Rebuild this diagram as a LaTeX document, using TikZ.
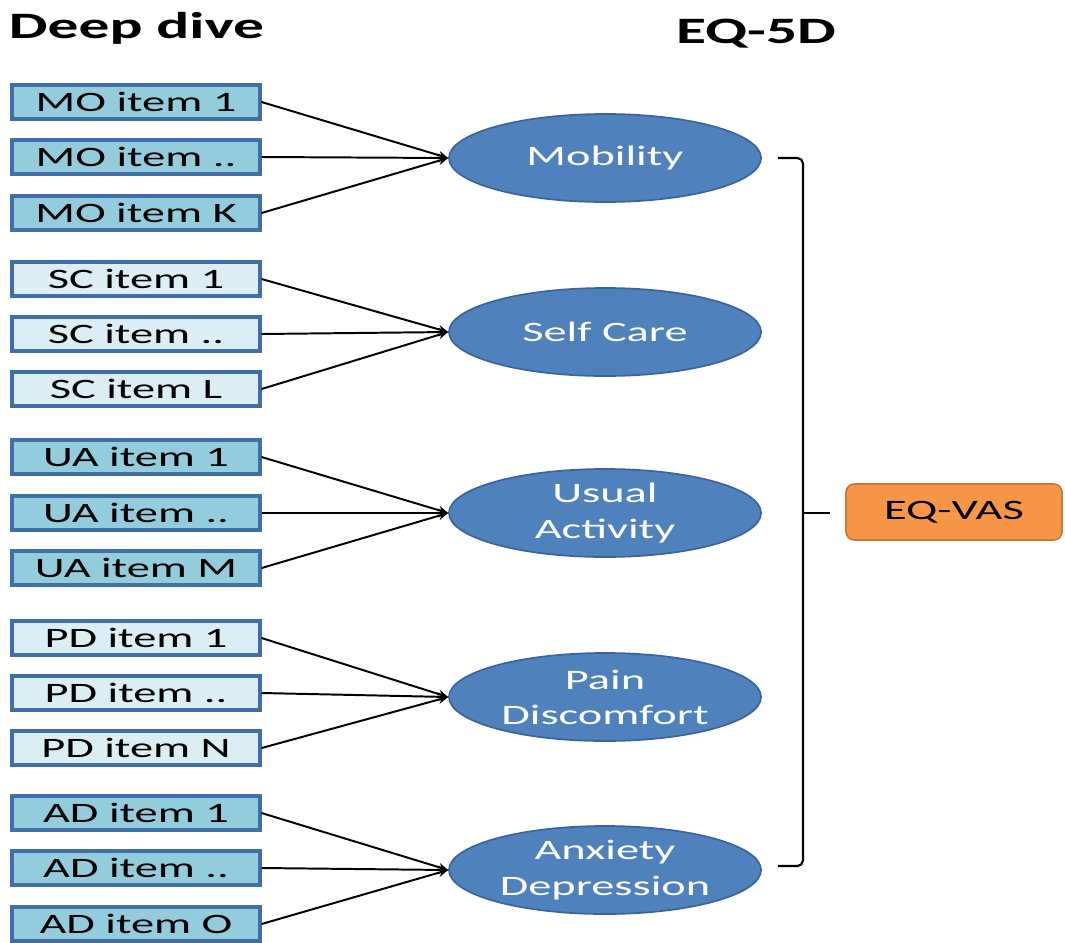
\documentclass[tikz,border=0pt]{standalone}
\usepackage{fontspec}
\setmainfont{Carlito}[FakeStretch=1.65]
\usetikzlibrary{shapes.geometric,arrows.meta}
\definecolor{itemdark}{HTML}{93CDDD}
\definecolor{itemlight}{HTML}{DBEEF4}
\definecolor{itemline}{HTML}{3F6FA6}
\definecolor{dimfill}{HTML}{4F81BD}
\definecolor{dimline}{HTML}{3A639A}
\definecolor{vasfill}{HTML}{F79646}
\definecolor{vasline}{HTML}{C87A3C}
\begin{document}
\begin{tikzpicture}[x=0.025cm, y=-0.025cm,
        item/.style={draw=itemline, line width=2.2pt, minimum width=6.2cm,
          minimum height=0.85cm, inner sep=0pt, font=\fontsize{20}{22}\selectfont},
        dark/.style={item, fill=itemdark},
        light/.style={item, fill=itemlight},
        dim/.style={ellipse, draw=dimline, line width=1.2pt, fill=dimfill,
          minimum width=7.8cm, minimum height=2.2cm, inner sep=0pt,
          text=white, align=center, font=\fontsize{20}{25}\selectfont},
        vas/.style={draw=vasline, line width=1.2pt, fill=vasfill, rounded corners=6pt,
          minimum width=5.4cm, minimum height=1.4cm, font=\fontsize{20}{22}\selectfont},
        link/.style={-{Stealth[length=7pt,width=6pt]}, line width=1.4pt},
        brace/.style={line width=1.5pt, rounded corners=4pt},
        title/.style={font=\bfseries\fontsize{26.5}{28}\selectfont},
      ]
        \useasboundingbox (0,0) rectangle (1065,942);
        \def\bx{136}  % item column
        \def\ex{605}  % dimension column

        % Titles
        \node[title, anchor=west] (deep) at (4,28) {Deep dive};
        \node[title] (eq5d) at (756,34) {EQ-5D};

        % Mobility
        \node[dark] (mo1) at (\bx,102) {MO item 1};
        \node[dark] (mo2) at (\bx,157) {MO item ..};
        \node[dark] (mo3) at (\bx,213) {MO item K};
        \node[dim] (mob) at (\ex,158) {Mobility};
        \draw[link] (mo1.east) -- (mob.west);
        \draw[link] (mo2.east) -- (mob.west);
        \draw[link] (mo3.east) -- (mob.west);

        % Self care
        \node[light] (sc1) at (\bx,279) {SC item 1};
        \node[light] (sc2) at (\bx,334) {SC item ..};
        \node[light] (sc3) at (\bx,389) {SC item L};
        \node[dim] (sc) at (\ex,332) {Self Care};
        \draw[link] (sc1.east) -- (sc.west);
        \draw[link] (sc2.east) -- (sc.west);
        \draw[link] (sc3.east) -- (sc.west);

        % Usual activity
        \node[dark] (ua1) at (\bx,457) {UA item 1};
        \node[dark] (ua2) at (\bx,513) {UA item ..};
        \node[dark] (ua3) at (\bx,568) {UA item M};
        \node[dim] (ua) at (\ex,513) {Usual\\Activity};
        \draw[link] (ua1.east) -- (ua.west);
        \draw[link] (ua2.east) -- (ua.west);
        \draw[link] (ua3.east) -- (ua.west);

        % Pain discomfort
        \node[light] (pd1) at (\bx,638) {PD item 1};
        \node[light] (pd2) at (\bx,693) {PD item ..};
        \node[light] (pd3) at (\bx,748) {PD item N};
        \node[dim] (pd) at (\ex,697) {Pain\\Discomfort};
        \draw[link] (pd1.east) -- (pd.west);
        \draw[link] (pd2.east) -- (pd.west);
        \draw[link] (pd3.east) -- (pd.west);

        % Anxiety depression
        \node[dark] (ad1) at (\bx,813) {AD item 1};
        \node[dark] (ad2) at (\bx,868) {AD item ..};
        \node[dark] (ad3) at (\bx,924) {AD item O};
        \node[dim] (ad) at (\ex,870) {Anxiety\\Depression};
        \draw[link] (ad1.east) -- (ad.west);
        \draw[link] (ad2.east) -- (ad.west);
        \draw[link] (ad3.east) -- (ad.west);

        % Bracket to EQ-VAS
        \node[vas] (vas) at (954,512) {EQ-VAS};
        \coordinate (btop) at (778,158);
        \coordinate (bbot) at (778,866);
        \coordinate (bmid) at (803,513);
        \coordinate (btip) at (830,513);
        \draw[brace] (btop) -| (bmid) |- (bbot);
        \draw[line width=1.5pt] (bmid) -- (btip);
      \end{tikzpicture}
\end{document}
